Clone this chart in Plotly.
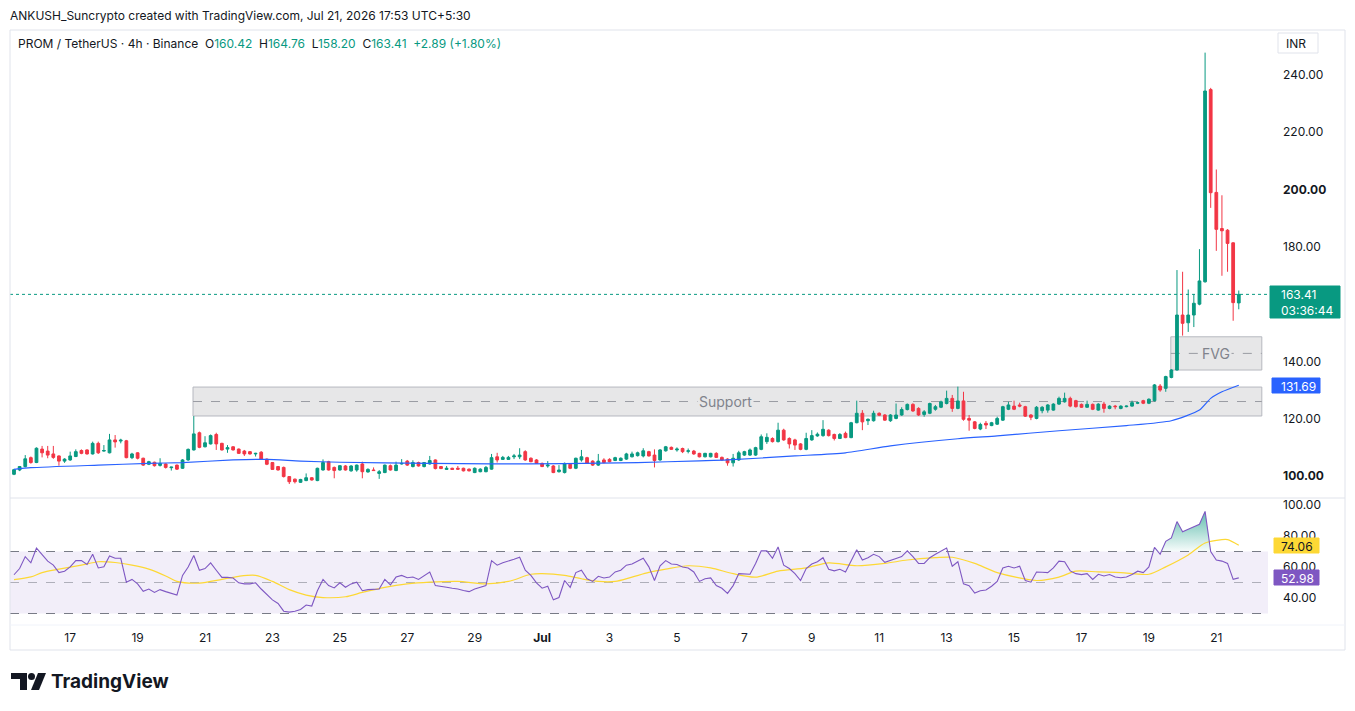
import plotly.graph_objects as go
import pandas as pd

# ---------------- data ----------------
start_time = "2026-06-15 09:30"   # first 4h candle (UTC+5:30)

opens = [
    100.6, 102.1, 103.3, 106.4, 104.7, 109.4, 108.7, 107.7, 107.0, 105.2,
    105.6, 106.8, 108.9, 109.1, 107.7, 111.4, 108.7, 108.1, 112.6, 112.2,
    112.3, 106.4, 108.1, 106.2, 104.1, 104.8, 103.7, 104.2, 102.9, 103.8,
    102.7, 105.6, 109.1, 115.1, 110.2, 111.2, 114.5, 111.4, 109.4, 110.2,
    109.4, 108.7, 108.5, 107.7, 108.3, 105.9, 104.7, 103.3, 103.0, 99.8,
    98.9, 97.8, 98.4, 99.4, 98.4, 102.1, 105.0, 103.0, 102.1, 103.5,
    101.8, 102.1, 104.2, 101.4, 102.1, 100.9, 101.2, 103.6, 101.9, 104.2,
    105.2, 103.3, 104.7, 103.3, 104.2, 105.6, 103.3, 102.3, 102.7, 102.7,
    102.7, 102.4, 101.2, 101.5, 101.5, 102.4, 106.7, 105.8, 105.8, 106.7,
    106.7, 108.5, 106.2, 105.6, 104.4, 103.5, 103.5, 101.5, 101.2, 104.1,
    102.7, 105.6, 106.4, 105.2, 103.8, 105.6, 105.8, 105.4, 105.4, 105.9,
    106.7, 107.1, 107.0, 108.5, 107.3, 105.6, 108.8, 110.0, 109.1, 109.6,
    108.6, 108.7, 107.9, 106.7, 106.7, 107.9, 106.5, 105.9, 104.6, 105.6,
    107.3, 107.3, 107.3, 109.3, 112.0, 113.1, 112.0, 116.0, 113.1, 112.6,
    111.2, 109.3, 112.6, 114.0, 114.1, 116.0, 114.5, 113.1, 114.9, 113.4,
    118.6, 121.9, 119.3, 119.3, 121.9, 121.3, 119.3, 120.1, 121.3, 123.2,
    125.0, 123.6, 121.5, 121.9, 123.3, 124.0, 125.3, 127.1, 123.6, 126.2,
    120.1, 118.9, 116.4, 118.4, 117.6, 118.1, 119.5, 123.3, 124.4, 124.8,
    124.2, 121.3, 120.1, 122.8, 123.0, 123.0, 125.1, 125.9, 127.1, 126.3,
    125.0, 124.0, 125.0, 123.0, 125.1, 123.6, 124.4, 123.6, 124.2, 124.4,
    125.4, 126.3, 125.4, 126.3, 131.4, 130.6, 134.4, 137.0, 156.2, 153.5,
    156.2, 160.0, 167.8, 234.9, 199.0, 186.4, 185.8, 181.4, 160.42,
]
highs = [
    102.5, 103.5, 107.3, 106.8, 110.0, 110.5, 110.5, 110.5, 107.2, 106.2,
    108.5, 109.3, 109.3, 109.3, 112.0, 112.0, 110.8, 114.7, 114.3, 113.0,
    112.6, 108.1, 108.3, 106.4, 105.3, 105.0, 106.2, 104.4, 103.2, 104.0,
    105.9, 109.6, 120.9, 115.5, 113.9, 114.5, 115.1, 111.6, 110.8, 110.4,
    109.6, 109.1, 108.7, 108.1, 108.7, 106.1, 104.9, 103.5, 103.3, 100.0,
    99.1, 99.0, 100.9, 99.6, 102.9, 105.8, 105.3, 103.3, 103.8, 103.8,
    103.8, 104.0, 105.0, 102.7, 103.0, 102.1, 104.0, 104.0, 105.0, 105.9,
    105.6, 105.5, 105.0, 104.9, 107.0, 105.8, 103.5, 103.5, 102.9, 103.5,
    102.9, 102.6, 103.0, 102.7, 103.5, 107.7, 108.1, 107.0, 107.0, 107.7,
    109.7, 109.0, 106.5, 105.9, 104.7, 105.2, 103.8, 103.8, 104.7, 104.4,
    106.4, 109.1, 106.7, 105.5, 107.7, 106.2, 106.2, 106.7, 106.5, 108.1,
    108.5, 108.5, 109.7, 108.8, 109.3, 109.4, 110.5, 110.3, 110.0, 109.9,
    109.6, 109.1, 108.1, 108.1, 108.1, 108.3, 106.8, 106.2, 107.7, 108.8,
    108.8, 109.6, 110.2, 114.5, 114.9, 113.5, 118.6, 116.5, 113.5, 113.0,
    111.5, 115.1, 116.0, 115.2, 119.5, 116.3, 114.8, 115.0, 115.5, 118.9,
    126.3, 123.0, 120.1, 122.8, 122.2, 121.6, 121.6, 125.3, 124.0, 125.3,
    125.4, 124.0, 123.0, 125.6, 124.8, 126.3, 129.8, 128.3, 131.2, 129.4,
    121.3, 119.2, 118.6, 119.2, 118.9, 120.7, 124.5, 125.9, 126.3, 125.6,
    124.5, 121.6, 124.4, 124.4, 125.1, 125.4, 127.7, 129.1, 127.7, 126.6,
    125.3, 126.3, 125.3, 125.4, 125.9, 124.7, 124.8, 124.7, 124.6, 126.3,
    125.9, 126.6, 127.1, 132.1, 132.1, 135.0, 137.3, 171.9, 171.3, 165.1,
    163.5, 179.2, 247.8, 235.5, 207.0, 198.0, 186.2, 181.6, 164.76,
]
lows = [
    100.3, 101.7, 103.0, 104.3, 104.5, 106.5, 106.2, 106.0, 103.6, 104.6,
    105.3, 106.6, 107.6, 107.5, 107.5, 107.7, 108.5, 107.9, 109.9, 111.4,
    106.2, 105.9, 105.8, 103.5, 103.8, 103.3, 103.3, 102.6, 101.9, 102.1,
    102.5, 105.3, 108.9, 109.7, 110.0, 111.0, 109.1, 108.9, 108.1, 108.9,
    107.7, 107.0, 107.5, 106.8, 105.7, 103.8, 102.1, 101.9, 99.5, 97.2,
    97.4, 97.6, 98.2, 98.4, 98.2, 101.9, 101.9, 99.2, 101.9, 101.9,
    101.5, 101.5, 99.2, 101.2, 101.8, 99.0, 101.0, 101.9, 101.7, 104.0,
    103.5, 103.0, 103.3, 103.0, 104.0, 102.3, 102.4, 102.1, 102.1, 102.2,
    101.6, 101.6, 101.0, 101.3, 101.3, 102.2, 104.7, 105.6, 105.6, 105.9,
    105.9, 105.3, 104.8, 104.2, 103.1, 102.9, 101.0, 101.2, 100.9, 102.4,
    102.4, 105.0, 104.2, 103.5, 103.5, 104.4, 104.8, 105.2, 105.2, 105.6,
    106.5, 106.8, 106.5, 106.8, 103.0, 105.3, 108.5, 109.1, 108.5, 108.0,
    107.9, 107.4, 106.5, 106.5, 106.5, 106.3, 105.3, 103.6, 103.3, 105.3,
    107.0, 107.0, 107.0, 109.0, 111.2, 111.7, 111.7, 112.3, 109.6, 109.1,
    109.0, 109.0, 112.3, 113.7, 113.7, 113.8, 112.4, 112.9, 113.2, 113.2,
    118.4, 116.0, 117.8, 119.0, 120.9, 119.3, 118.9, 119.8, 121.0, 122.9,
    122.4, 121.0, 120.7, 121.6, 122.8, 123.7, 125.0, 122.4, 123.3, 119.3,
    115.8, 116.3, 116.0, 116.4, 117.4, 117.8, 119.2, 123.0, 123.0, 124.0,
    120.6, 119.5, 119.8, 121.9, 122.1, 122.8, 124.8, 125.6, 124.0, 123.9,
    123.8, 123.8, 123.0, 122.8, 122.1, 123.3, 123.3, 123.3, 124.0, 124.2,
    125.1, 125.1, 125.1, 126.0, 129.4, 129.4, 134.1, 136.8, 149.0, 150.3,
    152.0, 159.6, 167.5, 193.6, 178.6, 169.9, 171.3, 154.2, 158.20,
]
closes = [
    102.2, 103.3, 106.0, 104.7, 109.7, 108.1, 107.3, 106.5, 105.2, 105.9,
    107.0, 108.5, 107.9, 107.7, 111.4, 108.1, 108.9, 112.6, 111.9, 112.5,
    106.4, 107.7, 106.2, 103.8, 105.0, 103.6, 104.4, 103.0, 103.1, 102.4,
    105.6, 109.3, 114.7, 110.0, 111.6, 114.1, 111.2, 109.1, 109.9, 109.1,
    107.9, 107.7, 107.7, 107.9, 105.9, 104.1, 102.3, 102.1, 99.8, 98.0,
    98.0, 98.8, 99.4, 98.6, 102.7, 104.7, 102.1, 101.9, 103.6, 102.1,
    103.5, 103.8, 101.5, 102.3, 101.9, 101.5, 103.8, 102.1, 103.8, 104.4,
    103.8, 104.7, 103.5, 104.7, 105.4, 102.6, 102.6, 102.7, 102.3, 102.4,
    101.8, 101.8, 102.7, 102.4, 103.0, 106.4, 105.6, 106.5, 106.5, 107.0,
    107.3, 105.6, 105.0, 104.4, 103.3, 103.8, 101.2, 102.1, 104.4, 102.7,
    106.2, 106.7, 104.4, 103.8, 105.2, 104.7, 105.0, 106.4, 106.2, 107.7,
    107.7, 108.1, 108.8, 107.0, 105.4, 109.1, 110.2, 109.3, 109.4, 108.5,
    108.8, 107.7, 106.7, 107.9, 107.9, 106.5, 105.6, 104.6, 106.2, 108.1,
    108.5, 109.1, 109.9, 113.7, 113.5, 112.0, 116.0, 112.6, 111.2, 110.8,
    109.3, 113.1, 114.1, 114.6, 116.3, 114.1, 113.1, 114.5, 113.4, 118.6,
    121.9, 118.9, 119.8, 121.9, 121.2, 119.5, 121.3, 121.3, 123.2, 125.0,
    122.7, 121.3, 122.4, 125.3, 124.2, 125.9, 127.1, 123.6, 126.2, 119.8,
    119.5, 116.6, 118.0, 117.8, 118.6, 120.1, 124.2, 124.8, 123.3, 124.4,
    120.9, 120.5, 124.0, 124.0, 124.8, 125.1, 127.1, 127.1, 124.4, 124.2,
    124.0, 125.0, 123.3, 125.1, 123.6, 124.4, 124.2, 124.4, 124.4, 125.6,
    125.6, 125.4, 126.8, 131.8, 130.0, 134.7, 137.0, 156.2, 153.3, 156.2,
    160.3, 168.1, 234.4, 198.9, 186.1, 185.6, 181.2, 160.52, 163.41,
]
rsi = [
    55.0, 59.0, 66.7, 62.7, 72.2, 67.8, 63.8, 61.2, 56.4, 57.3,
    60.1, 64.1, 64.1, 61.6, 68.2, 59.4, 60.1, 67.1, 65.6, 65.6,
    50.2, 52.0, 49.1, 44.3, 45.8, 43.6, 45.4, 44.1, 43.0, 41.9,
    54.6, 60.0, 67.4, 57.9, 59.0, 62.7, 57.9, 53.3, 53.3, 52.9,
    49.8, 49.1, 49.1, 49.8, 45.8, 42.5, 38.8, 36.5, 31.5, 30.9,
    31.5, 32.6, 35.5, 34.8, 44.7, 52.0, 48.0, 46.5, 49.8, 46.9,
    49.1, 50.2, 44.7, 45.4, 45.4, 45.8, 52.0, 48.5, 53.5, 54.6,
    53.1, 53.5, 52.0, 54.6, 56.8, 48.0, 47.6, 46.9, 46.3, 45.8,
    44.8, 44.1, 45.8, 46.7, 48.0, 64.1, 61.2, 62.7, 64.1, 65.0,
    66.3, 57.9, 54.6, 49.8, 46.3, 47.6, 38.8, 40.3, 51.3, 46.9,
    56.4, 57.9, 52.4, 50.7, 54.0, 52.9, 53.5, 56.8, 57.9, 61.2,
    61.9, 63.5, 65.6, 60.1, 51.3, 60.8, 64.1, 61.9, 61.6, 60.0,
    59.4, 56.8, 50.7, 52.4, 53.0, 48.0, 46.3, 43.0, 48.0, 55.7,
    55.5, 55.3, 62.3, 70.4, 70.4, 65.6, 72.9, 61.2, 59.0, 55.7,
    51.3, 59.0, 61.9, 63.4, 66.0, 58.6, 57.5, 58.5, 56.8, 64.5,
    71.1, 64.5, 66.0, 68.2, 66.7, 63.0, 64.5, 65.5, 66.7, 70.4,
    66.7, 62.3, 62.3, 66.0, 68.2, 70.0, 72.2, 60.5, 63.4, 49.1,
    48.0, 43.2, 44.7, 45.2, 47.6, 50.7, 59.4, 60.5, 59.4, 60.5,
    51.3, 50.2, 56.8, 56.6, 56.4, 59.4, 63.8, 63.4, 57.5, 55.7,
    55.1, 55.7, 52.0, 55.3, 54.2, 55.1, 53.5, 53.1, 53.5, 55.1,
    57.3, 56.4, 60.1, 72.6, 68.2, 76.6, 78.8, 89.3, 82.7, 84.3,
    86.0, 87.6, 95.9, 70.0, 64.5, 63.8, 62.3, 52.0, 52.98,
]
# moving average on price (blue), read at candle indexes
ma_idx = [0, 3, 15, 24, 30, 39, 45, 51, 58, 74, 85, 98, 111, 122, 127, 139,
          148, 156, 168, 175, 186, 198, 206, 211, 213, 215, 218]
ma_val = [102.3, 102.9, 103.8, 104.4, 104.7, 105.6, 105.8, 105.2, 104.8, 104.4,
          104.2, 104.3, 104.7, 105.3, 105.6, 107.0, 108.1, 110.5, 113.0, 114.0,
          115.8, 117.6, 119.3, 123.0, 127.1, 129.4, 131.69]
# RSI-based moving average (yellow), read at candle indexes
rsima_idx = [0, 3, 5, 8, 12, 15, 18, 21, 24, 27, 29, 33, 37, 40, 43, 46, 49, 52,
             55, 59, 62, 66, 70, 74, 79, 84, 88, 92, 94, 98, 101, 104, 107, 110,
             113, 116, 120, 124, 128, 132, 136, 141, 145, 150, 155, 159, 164,
             167, 171, 175, 182, 186, 189, 193, 197, 202, 205, 209, 212, 215,
             216, 218]
rsima_val = [51.8, 53.6, 56.4, 58.6, 61.2, 63.4, 62.9, 61.2, 58.6, 54.2, 50.7,
             49.6, 52.0, 54.0, 54.6, 50.7, 45.4, 41.9, 40.3, 40.8, 43.6, 46.9,
             49.1, 50.2, 50.7, 49.1, 50.7, 55.3, 55.7, 54.6, 52.4, 50.7, 50.7,
             53.5, 56.5, 58.6, 60.8, 59.4, 55.7, 53.5, 57.3, 59.4, 62.7, 60.8,
             62.3, 64.5, 66.0, 66.3, 62.3, 56.4, 51.3, 53.5, 57.3, 56.8, 56.4,
             55.3, 60.1, 67.8, 75.5, 77.7, 77.7, 74.06]

price_ticks = [100, 120, 140, 160, 180, 200, 220, 240]
price_tick_text = ["<b>100.00</b>", "120.00", "140.00", "", "180.00",
                   "<b>200.00</b>", "220.00", "240.00"]
rsi_ticks = [40, 60, 80, 100]
rsi_tick_text = ["40.00", "60.00", "80.00", "100.00"]
x_tick_dates = ["2026-06-17 01:30", "2026-06-19 01:30", "2026-06-21 01:30",
                "2026-06-23 01:30", "2026-06-25 01:30", "2026-06-27 01:30",
                "2026-06-29 01:30", "2026-07-01 01:30", "2026-07-03 01:30",
                "2026-07-05 01:30", "2026-07-07 01:30", "2026-07-09 01:30",
                "2026-07-11 01:30", "2026-07-13 01:30", "2026-07-15 01:30",
                "2026-07-17 01:30", "2026-07-19 01:30", "2026-07-21 01:30"]
x_tick_text = ["17", "19", "21", "23", "25", "27", "29", "<b>Jul</b>", "3",
               "5", "7", "9", "11", "13", "15", "17", "19", "21"]

last_price = 163.41
ma_last = 131.69
rsi_last = 52.98
rsima_last = 74.06
support_zone = (120.95, 131.05)
fvg_zone = (137.0, 148.6)

# ---------------- helpers ----------------
t0 = pd.Timestamp(start_time)
n = len(closes)


def tpos(i):
    return (t0 + pd.Timedelta(hours=4 * i)).strftime("%Y-%m-%d %H:%M:%S")


times = [tpos(i) for i in range(n)]

W, H = 1355, 711
PL, PR, PT, PB = 10, 1268, 30, 625   # plot area pixels


def PX(x):
    return (x - PL) / (PR - PL)


def PY(y):
    return (PB - y) / (PB - PT)


FONT = "Inter, Roboto, sans-serif"
TXT = "#131722"
GREEN = "#089981"
RED = "#F23645"

price_dom_bottom = PY(497)
rsi_dom_top = PY(499)

fig = go.Figure()

fig.add_trace(go.Candlestick(
    x=times, open=opens, high=highs, low=lows, close=closes,
    increasing=dict(line=dict(color=GREEN, width=1), fillcolor=GREEN),
    decreasing=dict(line=dict(color=RED, width=1), fillcolor=RED),
    whiskerwidth=0, xaxis="x", yaxis="y", hoverinfo="skip", showlegend=False,
))

fig.add_trace(go.Scatter(
    x=[times[i] for i in ma_idx], y=ma_val, mode="lines",
    line=dict(color="#2962FF", width=1.2, shape="spline", smoothing=0.6),
    xaxis="x", yaxis="y", hoverinfo="skip", showlegend=False,
))

# overbought gradient fill
ob = list(range(201, 215))
fig.add_trace(go.Scatter(
    x=[times[i] for i in ob], y=[70] * len(ob), mode="lines",
    line=dict(width=0, color="rgba(0,0,0,0)"), xaxis="x2", yaxis="y2",
    hoverinfo="skip", showlegend=False,
))
fig.add_trace(go.Scatter(
    x=[times[i] for i in ob], y=[max(rsi[i], 70) for i in ob], mode="lines",
    line=dict(width=0, color="rgba(0,0,0,0)"), fill="tonexty",
    fillgradient=dict(type="vertical", start=70, stop=100,
                      colorscale=[[0, "rgba(8,153,129,0.03)"],
                                  [1, "rgba(8,153,129,0.75)"]]),
    xaxis="x2", yaxis="y2", hoverinfo="skip", showlegend=False,
))

fig.add_trace(go.Scatter(
    x=[times[i] for i in rsima_idx], y=rsima_val, mode="lines",
    line=dict(color="#FDD835", width=1.2, shape="spline", smoothing=0.8),
    xaxis="x2", yaxis="y2", hoverinfo="skip", showlegend=False,
))
fig.add_trace(go.Scatter(
    x=times, y=rsi, mode="lines", line=dict(color="#7E57C2", width=1.1),
    xaxis="x2", yaxis="y2", hoverinfo="skip", showlegend=False,
))

shapes = []
# RSI band
shapes.append(dict(type="rect", xref="x2 domain", yref="y2", x0=0, x1=1, y0=30, y1=70,
                   fillcolor="rgba(126,87,194,0.10)", line=dict(width=0), layer="below"))
for lv, col in [(70, "#787B86"), (30, "#787B86"), (50, "rgba(120,123,134,0.55)")]:
    shapes.append(dict(type="line", xref="x2 domain", yref="y2", x0=0, x1=1, y0=lv, y1=lv,
                       line=dict(color=col, width=1, dash="dash"), layer="below"))
# support zone
shapes.append(dict(type="rect", xref="x", yref="y", x0=tpos(31.86), x1=tpos(222.1),
                   y0=support_zone[0], y1=support_zone[1], fillcolor="#e7e7e8",
                   line=dict(color="#b6b8bf", width=1), layer="below"))
shapes.append(dict(type="line", xref="x", yref="y", x0=tpos(31.86), x1=tpos(222.1),
                   y0=sum(support_zone) / 2, y1=sum(support_zone) / 2,
                   line=dict(color="#9a9ca3", width=1, dash="dash"), layer="below"))
# FVG zone
shapes.append(dict(type="rect", xref="x", yref="y", x0=tpos(205.9), x1=tpos(222.1),
                   y0=fvg_zone[0], y1=fvg_zone[1], fillcolor="#e7e7e8",
                   line=dict(color="#b6b8bf", width=1), layer="below"))
shapes.append(dict(type="line", xref="x", yref="y", x0=tpos(205.9), x1=tpos(222.1),
                   y0=sum(fvg_zone) / 2, y1=sum(fvg_zone) / 2,
                   line=dict(color="#9a9ca3", width=1, dash="dash"), layer="below"))
# last price dotted line
shapes.append(dict(type="line", xref="x domain", yref="y", x0=0, x1=1,
                   y0=last_price, y1=last_price,
                   line=dict(color=GREEN, width=1, dash="dot"), layer="below"))
# frame & separators
shapes.append(dict(type="rect", xref="paper", yref="paper", x0=PX(10), x1=PX(1345),
                   y0=PY(650), y1=PY(30), line=dict(color="#e0e3eb", width=1)))
shapes.append(dict(type="line", xref="paper", yref="paper", x0=PX(10), x1=PX(1345),
                   y0=PY(498), y1=PY(498), line=dict(color="#e0e3eb", width=1)))
shapes.append(dict(type="line", xref="paper", yref="paper", x0=PX(10), x1=PX(1345),
                   y0=PY(625), y1=PY(625), line=dict(color="#f0f3fa", width=1)))


def box(x0, y0, x1, y1, color, line=None):
    shapes.append(dict(type="rect", xref="paper", yref="paper", x0=PX(x0), x1=PX(x1),
                       y0=PY(y1), y1=PY(y0), fillcolor=color,
                       line=dict(color=line or color, width=1)))


box(1278, 33, 1318, 53, "white", "#e0e3eb")
box(1270, 286, 1340, 318, GREEN)
box(1272, 378, 1320, 393, "#2962FF")
box(1274, 538, 1319, 553, "#FDD835")
box(1274, 570, 1319, 585, "#7E57C2")

# TradingView logo glyph
def path_px(pts):
    s = "M " + " L ".join(f"{PX(x)},{PY(y)}" for x, y in pts) + " Z"
    return s


shapes.append(dict(type="path", xref="paper", yref="paper",
                   path=path_px([(11, 673), (27, 673), (27, 690), (20, 690), (20, 679), (11, 679)]),
                   fillcolor=TXT, line=dict(width=0)))
shapes.append(dict(type="circle", xref="paper", yref="paper", x0=PX(28), x1=PX(35),
                   y0=PY(680), y1=PY(673), fillcolor=TXT, line=dict(width=0)))
shapes.append(dict(type="path", xref="paper", yref="paper",
                   path=path_px([(31, 690), (38, 673), (46, 673), (39, 690)]),
                   fillcolor=TXT, line=dict(width=0)))

ann = []


def text(x, y, s, size=12, color=TXT, anchor="left", bold=False):
    ann.append(dict(xref="paper", yref="paper", x=PX(x), y=PY(y), text=s, showarrow=False,
                    xanchor=anchor, yanchor="middle", align="left",
                    font=dict(family=FONT, size=size, color=color,
                              weight=700 if bold else 400)))


sp = "\u00a0\u00a0"
g = lambda v: f"<span style='color:{GREEN}'>{v}</span>"
text(8, 15, "ANKUSH_Suncrypto created with TradingView.com, Jul 21, 2026 17:53 UTC+5:30", 12)
text(16, 43, "PROM / TetherUS · 4h · Binance" + sp + "O" + g(f"{opens[-1]:.2f}") + sp + "H" +
     g(f"{highs[-1]:.2f}") + sp + "L" + g(f"{lows[-1]:.2f}") + sp + "C" + g(f"{closes[-1]:.2f}") +
     sp + g(f"+{closes[-1] - closes[-2]:.2f} (+1.80%)"), 12)
text(1284, 43, "INR", 12)
ann.append(dict(xref="paper", yref="paper", x=PX(1279), y=PY(302), showarrow=False,
                text=f"{last_price:.2f}<br>03:36:44", xanchor="left", yanchor="middle",
                align="left", font=dict(family=FONT, size=12, color="white")))
text(1279, 386, f"{ma_last:.2f}", 12, "white")
text(1279, 546, f"{rsima_last:.2f}", 12, TXT)
text(1279, 578, f"{rsi_last:.2f}", 12, "white")
text(49, 681, "TradingView", 19, TXT, bold=True)

ann.append(dict(xref="x", yref="y", x=tpos(126.7), y=sum(support_zone) / 2, text="Support",
                showarrow=False, font=dict(family=FONT, size=14, color="#80838c"),
                bgcolor="#e7e7e8", borderpad=1))
ann.append(dict(xref="x", yref="y", x=tpos(213.96), y=sum(fvg_zone) / 2, text="FVG",
                showarrow=False, font=dict(family=FONT, size=14, color="#80838c"),
                bgcolor="#e7e7e8", borderpad=1))

xrange = [tpos(-0.712), tpos(223.2)]
axis_font = dict(family=FONT, size=12, color=TXT)

fig.update_layout(
    width=W, height=H, margin=dict(l=PL, r=W - PR, t=PT, b=H - PB),
    paper_bgcolor="white", plot_bgcolor="white", showlegend=False, hovermode=False,
    shapes=shapes, annotations=ann,
    xaxis=dict(domain=[0, 1], anchor="y", type="date", range=xrange, showticklabels=False,
               showgrid=False, zeroline=False, rangeslider=dict(visible=False), showline=False),
    yaxis=dict(domain=[price_dom_bottom, 1], anchor="x", range=[92.67, 255.7], side="right",
               tickvals=price_ticks, ticktext=price_tick_text, showgrid=False, zeroline=False,
               ticks="", ticklabelstandoff=14, tickfont=axis_font, showline=False),
    xaxis2=dict(domain=[0, 1], anchor="y2", type="date", range=xrange, matches="x",
                tickvals=x_tick_dates, ticktext=x_tick_text, showgrid=False, zeroline=False,
                ticks="", ticklabelstandoff=4, tickfont=axis_font, showline=False),
    yaxis2=dict(domain=[0, rsi_dom_top], anchor="x2", range=[22.58, 103.87], side="right",
                tickvals=rsi_ticks, ticktext=rsi_tick_text, showgrid=False, zeroline=False,
                ticks="", ticklabelstandoff=14, tickfont=axis_font, showline=False),
)

fig.write_html("out.html")
